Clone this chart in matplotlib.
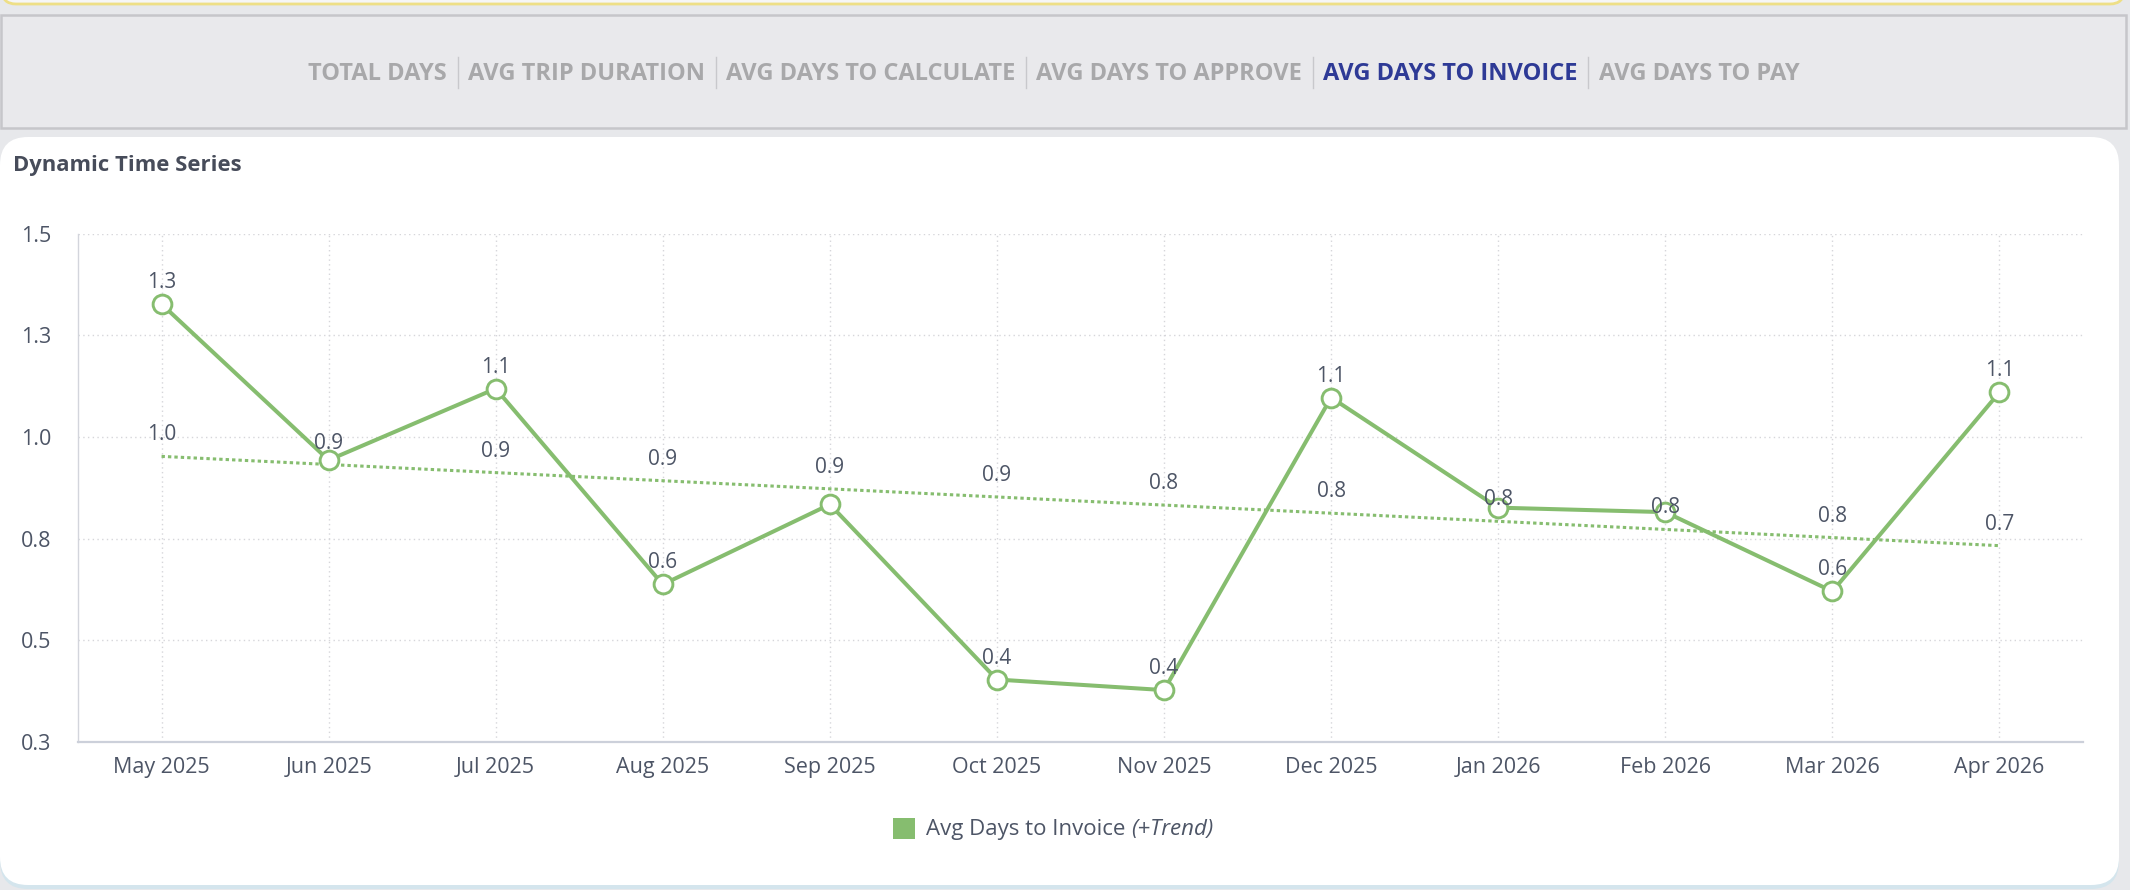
import matplotlib.pyplot as plt
import numpy as np
from matplotlib.patches import FancyBboxPatch, Rectangle

plt.rcParams['font.family'] = ['Open Sans', 'DejaVu Sans']

# data
months = ['May 2025', 'Jun 2025', 'Jul 2025', 'Aug 2025', 'Sep 2025', 'Oct 2025',
          'Nov 2025', 'Dec 2025', 'Jan 2026', 'Feb 2026', 'Mar 2026', 'Apr 2026']
avg_days_to_invoice = [1.327, 0.943, 1.119, 0.637, 0.834, 0.403,
                       0.377, 1.097, 0.826, 0.815, 0.620, 1.110]
y_ticks = [0.25, 0.5, 0.75, 1.0, 1.25, 1.5]
y_tick_labels = ['0.3', '0.5', '0.8', '1.0', '1.3', '1.5']
tabs = ['TOTAL DAYS', 'AVG TRIP DURATION', 'AVG DAYS TO CALCULATE',
        'AVG DAYS TO APPROVE', 'AVG DAYS TO INVOICE', 'AVG DAYS TO PAY']
active_tab = 'AVG DAYS TO INVOICE'

GREEN = '#86bd6f'
TEXT = '#4d5566'
W, H = 2130, 890

fig = plt.figure(figsize=(W / 100, H / 100), dpi=100)
fig.patch.set_facecolor('#e7e8eb')

# page background: tab strip + white card (pixel coords)
bg = fig.add_axes([0, 0, 1, 1])
bg.set_xlim(0, W)
bg.set_ylim(H, 0)
bg.axis('off')
bg.add_patch(FancyBboxPatch((2, -40), W - 8, 44, boxstyle='round,pad=0,rounding_size=14',
                            fc='#f6f6f6', ec='#eedf86', lw=2))
bg.add_patch(Rectangle((1, 15), W - 5, 113, fc='#e9e9ec', ec='#c6c6ca', lw=1.8))
bg.add_patch(FancyBboxPatch((0, 140), 2119, 749, boxstyle='round,pad=0,rounding_size=28',
                            fc='#d4e5ed', ec='none'))
bg.add_patch(FancyBboxPatch((0, 137), 2119, 748, boxstyle='round,pad=0,rounding_size=28',
                            fc='white', ec='none'))

fig.canvas.draw()
rend = fig.canvas.get_renderer()

# tabs row, centred
tab_texts = []
for name in tabs:
    col = '#2e3a96' if name == active_tab else '#a8a8aa'
    t = bg.text(0, 74, name, fontsize=17, fontweight='bold', color=col, va='center', ha='left')
    tab_texts.append(t)
widths = [t.get_window_extent(rend).width for t in tab_texts]
gap = 21
total = sum(widths) + gap * (len(tabs) - 1)
x0 = 1054 - total / 2
for i, t in enumerate(tab_texts):
    t.set_x(x0)
    x0 += widths[i]
    if i < len(tabs) - 1:
        bg.plot([x0 + gap / 2] * 2, [57, 88], color='#c8c8cc', lw=1)
        x0 += gap

bg.text(13, 166, 'Dynamic Time Series', fontsize=15.8, fontweight='bold', color='#474c5a', va='center')

# legend
bg.add_patch(Rectangle((893, 818), 22, 21, fc=GREEN, ec='none'))
lt = bg.text(926, 829, 'Avg Days to Invoice', fontsize=16, color=TEXT, va='center')
lw_ = lt.get_window_extent(rend).width
bg.text(926 + lw_ + 6, 829, '(+Trend)', fontsize=16, style='italic', color=TEXT, va='center')

# chart
ax = fig.add_axes([78 / W, 148.3 / H, 2005 / W, 507.9 / H])
x = np.arange(len(months))
vals = np.array(avg_days_to_invoice)
trend = np.polyval(np.polyfit(x, vals, 1), x)

ax.plot(x, trend, color=GREEN, lw=2.2, linestyle=(0, (1.1, 1.0)), zorder=3)
ax.plot(x, vals, color=GREEN, lw=2.9, marker='o', ms=13.5, mfc='white', mec=GREEN, mew=2.1,
        zorder=4, clip_on=False)

for i in range(len(x)):
    ax.annotate(f'{trend[i]:.1f}', (x[i], trend[i]), xytext=(0, 11.5), textcoords='offset points',
                ha='center', va='baseline', fontsize=15, color=TEXT, zorder=5)
    if abs(vals[i] - trend[i]) > 0.06:  # overlapping labels are hidden
        ax.annotate(f'{vals[i]:.1f}', (x[i], vals[i]), xytext=(0, 11.5), textcoords='offset points',
                    ha='center', va='baseline', fontsize=15, color=TEXT, zorder=5)

ax.set_xlim(-0.5, len(x) - 0.5)
ax.set_ylim(0.25, 1.5)
ax.set_xticks(x, months)
ax.set_yticks(y_ticks, y_tick_labels)
ax.tick_params(length=0, labelsize=15.5, colors=TEXT)
ax.tick_params(axis='x', pad=11)
ax.tick_params(axis='y', pad=19)
ax.grid(color='#d6d6da', linestyle=(0, (1, 2.4)), lw=1)
ax.set_axisbelow(True)
for s in ['top', 'right']:
    ax.spines[s].set_visible(False)
ax.spines['left'].set_color('#d3d5dc')
ax.spines['left'].set_linewidth(1)
ax.spines['bottom'].set_color('#ccd0da')
ax.spines['bottom'].set_linewidth(1.6)
ax.set_facecolor('white')

fig.savefig('out.png', dpi=100, facecolor=fig.get_facecolor())
